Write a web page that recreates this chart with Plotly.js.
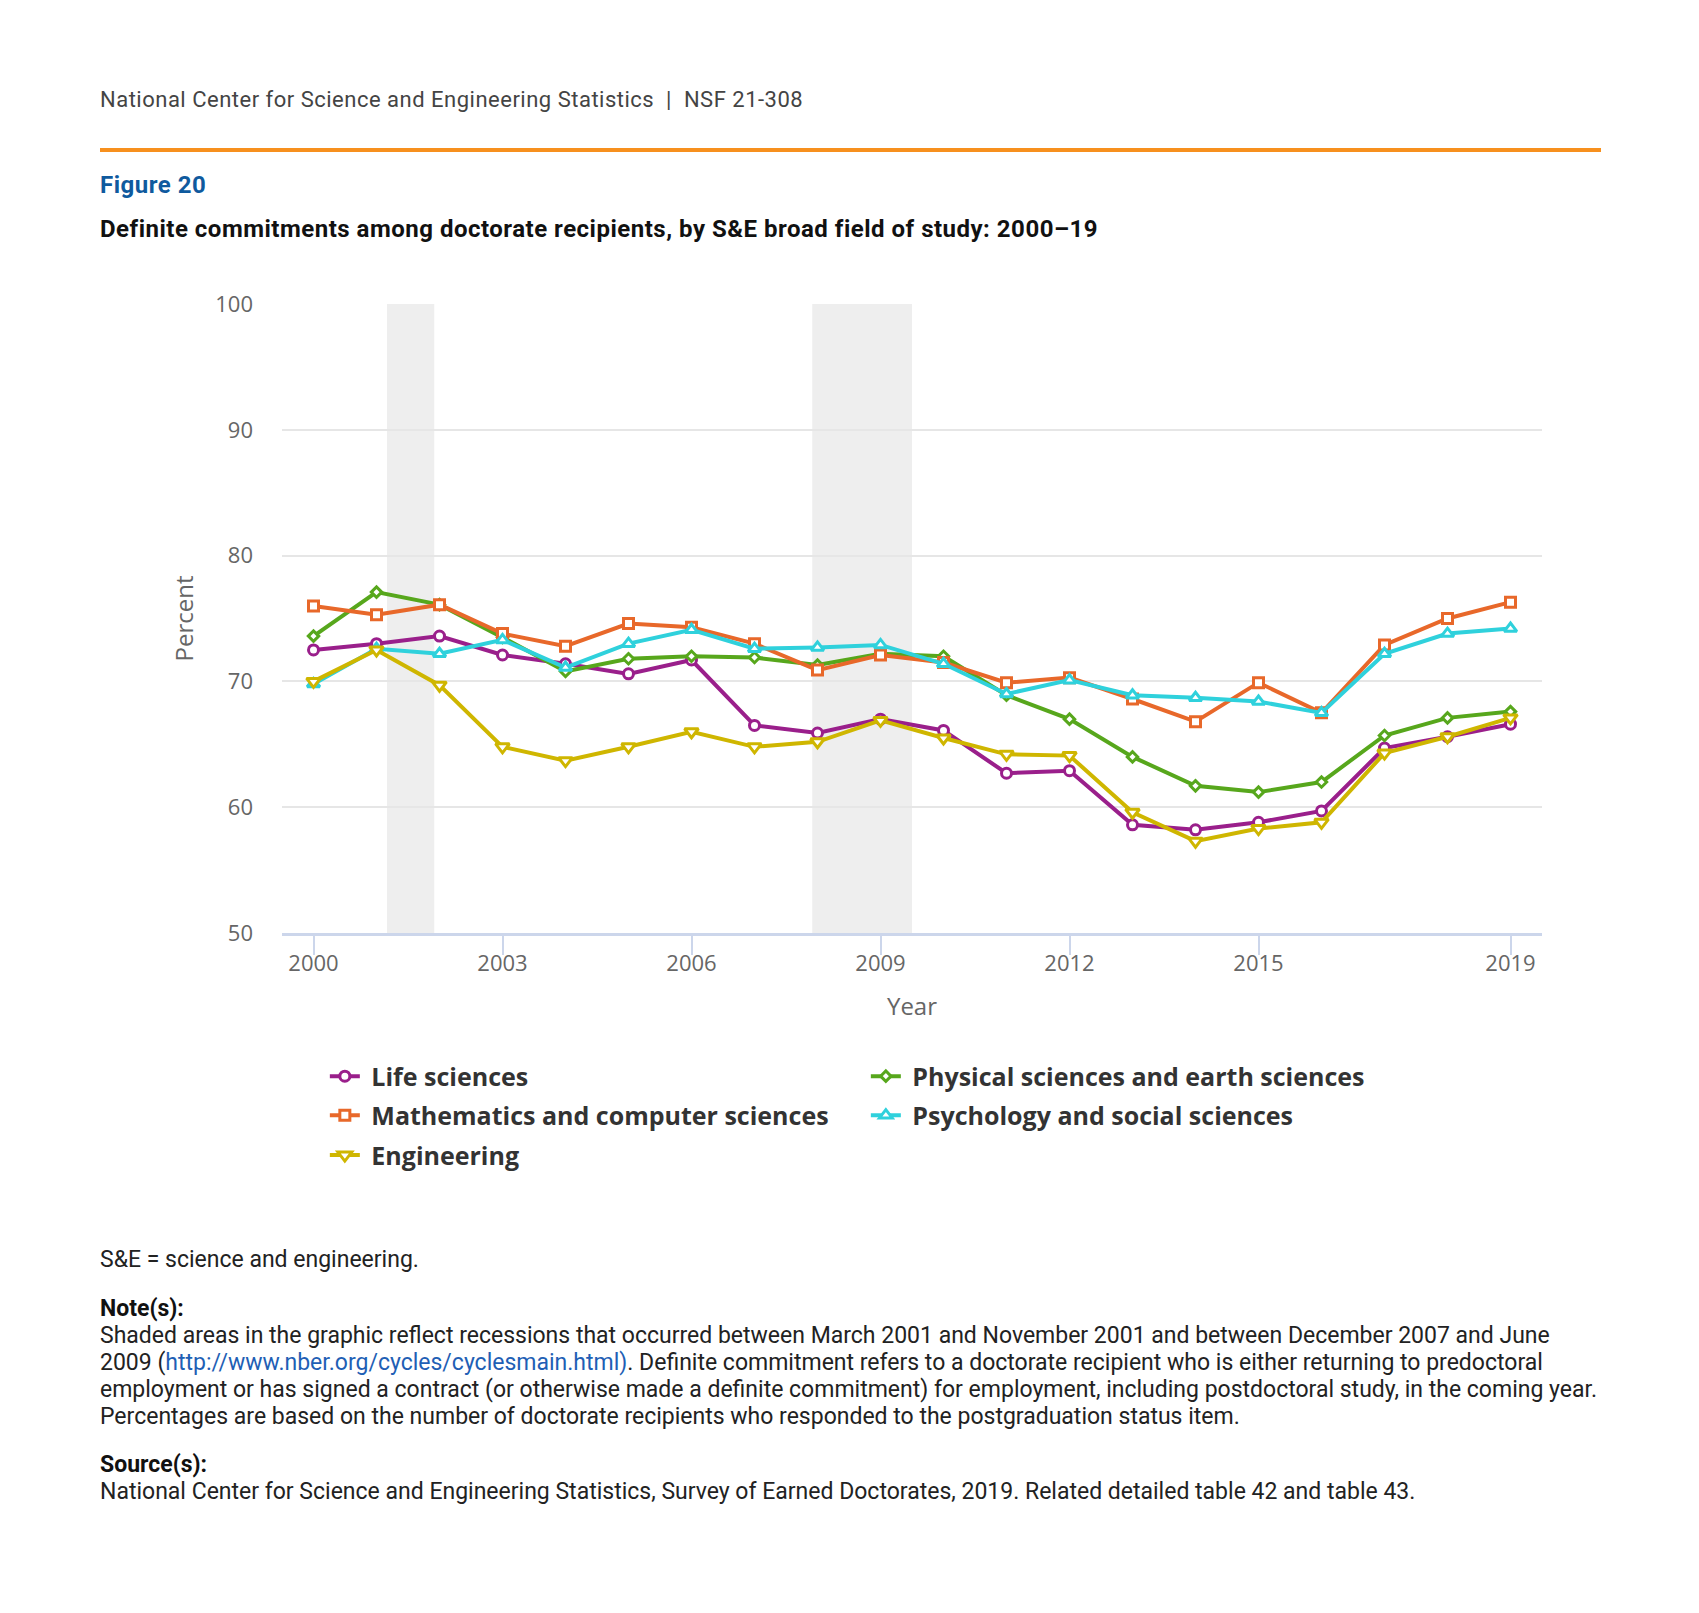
<!DOCTYPE html>
<html>
<head>
<meta charset="utf-8">
<script src="https://cdn.plot.ly/plotly-3.0.1.min.js"></script>
<style>
  html, body { margin:0; padding:0; width:1699px; height:1613px; overflow:hidden; background:#fff; }
  #chart { position:absolute; left:0; top:0; width:1699px; height:1613px; }
  .txt { position:absolute; left:100px; font-family:Roboto, 'Noto Sans', sans-serif; white-space:nowrap; }
  #hdr { top:89px; font-size:22px; line-height:22px; letter-spacing:0.5px; color:#444444; }
  #rule { position:absolute; left:100px; top:148px; width:1501px; height:4px; background:#f7901e; }
  #fig { top:173px; font-size:24px; line-height:24px; letter-spacing:0.5px; font-weight:bold; color:#0f5a9e; }
  #ttl { top:216.5px; font-size:24px; line-height:24px; letter-spacing:0.5px; font-weight:bold; color:#111111; }
  .note { font-size:23px; line-height:27px; color:#222222; }
  .note b { color:#111; }
  .note a { color:#1f5fb5; text-decoration:none; }
</style>
</head>
<body>
<div id="chart"></div>
<div class="txt" id="hdr">National Center for Science and Engineering Statistics &nbsp;|&nbsp; NSF 21-308</div>
<div id="rule"></div>
<div class="txt" id="fig">Figure 20</div>
<div class="txt" id="ttl">Definite commitments among doctorate recipients, by S&amp;E broad field of study: 2000–19</div>
<div class="txt note" style="top:1246px;">S&amp;E = science and engineering.</div>
<div class="txt note" style="top:1295px;"><b>Note(s):</b><br>Shaded areas in the graphic reflect recessions that occurred between March 2001 and November 2001 and between December 2007 and June<br>2009 (<a>http://www.nber.org/cycles/cyclesmain.html)</a>. Definite commitment refers to a doctorate recipient who is either returning to predoctoral<br>employment or has signed a contract (or otherwise made a definite commitment) for employment, including postdoctoral study, in the coming year.<br>Percentages are based on the number of doctorate recipients who responded to the postgraduation status item.</div>
<div class="txt note" style="top:1450.5px;"><b>Source(s):</b><br>National Center for Science and Engineering Statistics, Survey of Earned Doctorates, 2019. Related detailed table 42 and table 43.</div>
<script>
// ---- data ----
const years = [2000,2001,2002,2003,2004,2005,2006,2007,2008,2009,2010,2011,2012,2013,2014,2015,2016,2017,2018,2019];
const lifeSciences = [72.5,73.0,73.6,72.1,71.4,70.6,71.7,66.5,65.9,67.0,66.1,62.7,62.9,58.6,58.2,58.8,59.7,64.7,65.6,66.6];
const physicalSciences = [73.6,77.1,76.1,73.5,70.8,71.8,72.0,71.9,71.3,72.2,72.0,68.9,67.0,64.0,61.7,61.2,62.0,65.7,67.1,67.6];
const mathCompSciences = [76.0,75.3,76.1,73.8,72.8,74.6,74.3,73.0,70.9,72.1,71.5,69.9,70.3,68.6,66.8,69.9,67.5,72.9,75.0,76.3];
const psychSocSciences = [69.8,72.6,72.2,73.3,71.1,73.0,74.1,72.6,72.7,72.9,71.4,69.0,70.1,68.9,68.7,68.4,67.5,72.2,73.8,74.2];
const engineering = [70.0,72.5,69.7,64.8,63.7,64.8,66.0,64.8,65.2,66.9,65.5,64.2,64.1,59.6,57.3,58.3,58.8,64.3,65.6,67.1];
const seriesNames = ["Life sciences","Physical sciences and earth sciences","Mathematics and computer sciences","Psychology and social sciences","Engineering"];
const xTickVals = [2000,2003,2006,2009,2012,2015,2019];
const yTickVals = [50,60,70,80,90,100];
// recessions (Mar 2001–Nov 2001, Dec 2007–Jun 2009) as fractional years
const recessionStart = [2001 + 2/12, 2007 + 11/12];
const recessionEnd = [2001 + 11/12, 2009 + 6/12];

// ---- styles ----
const colors = ["#9a1f8b","#57a71c","#e8682a","#2fd1dc","#cfb600"];
const symbols = ["circle","diamond","square","triangle-up","triangle-down"];
const msizes = [10,8,10,11,12];
const legendIds = ["legend","legend","legend2","legend2","legend3"];
const values = [lifeSciences, physicalSciences, mathCompSciences, psychSocSciences, engineering];

const traces = values.map((v,i)=>({
  type:"scatter", mode:"lines+markers", x:years, y:v, name:"\u00a0" + seriesNames[i],
  legend: legendIds[i],
  line:{color:colors[i], width:4},
  marker:{symbol:symbols[i], size:msizes[i], color:"#ffffff", line:{color:colors[i], width:3}},
  hovertemplate: seriesNames[i] + "<br>%{x}: %{y}<extra></extra>"
}));

const shapes = recessionStart.map((s,i)=>({
  type:"rect", xref:"x", yref:"paper", x0:s, x1:recessionEnd[i], y0:0, y1:1,
  fillcolor:"#eeeeee", line:{width:0}, layer:"below"
}));

const legFont = {family:"Open Sans", size:25, color:"#333333", weight:"bold"};
function leg(y){ return {orientation:"h", x:0.034, xanchor:"left", y:y, yanchor:"middle",
  entrywidth:496, entrywidthmode:"pixels", font:legFont, bgcolor:"rgba(0,0,0,0)", borderwidth:0}; }

const layout = {
  width:1699, height:1613,
  margin:{l:282, r:157, t:304, b:680},
  paper_bgcolor:"rgba(0,0,0,0)", plot_bgcolor:"rgba(0,0,0,0)",
  font:{family:"Open Sans", color:"#666666"},
  showlegend:true,
  xaxis:{range:[1999.5,2019.5], tickvals:xTickVals, ticktext:xTickVals.map(String),
    showgrid:false, zeroline:false, showline:true, linecolor:"#ccd6eb", linewidth:2.5,
    ticks:"outside", ticklen:19, tickwidth:2, tickcolor:"#ccd6eb", ticklabelstandoff:-10,
    tickfont:{family:"Open Sans", size:22, color:"#666666"},
    title:{text:"Year", font:{family:"Open Sans", size:24, color:"#666666"}, standoff:23}},
  yaxis:{range:[50,100], tickvals:yTickVals, showgrid:true, gridcolor:"#e6e6e6", gridwidth:2,
    zeroline:false, showline:false, ticks:"", ticklabelstandoff:28,
    tickfont:{family:"Open Sans", size:22, color:"#666666"},
    title:{text:"Percent", font:{family:"Open Sans", size:24, color:"#666666"}, standoff:14}},
  legend: leg(-0.228),
  legend2: leg(-0.290),
  legend3: leg(-0.3535),
  shapes: shapes
};
Plotly.newPlot("chart", traces, layout, {displayModeBar:false});
</script>
</body>
</html>
